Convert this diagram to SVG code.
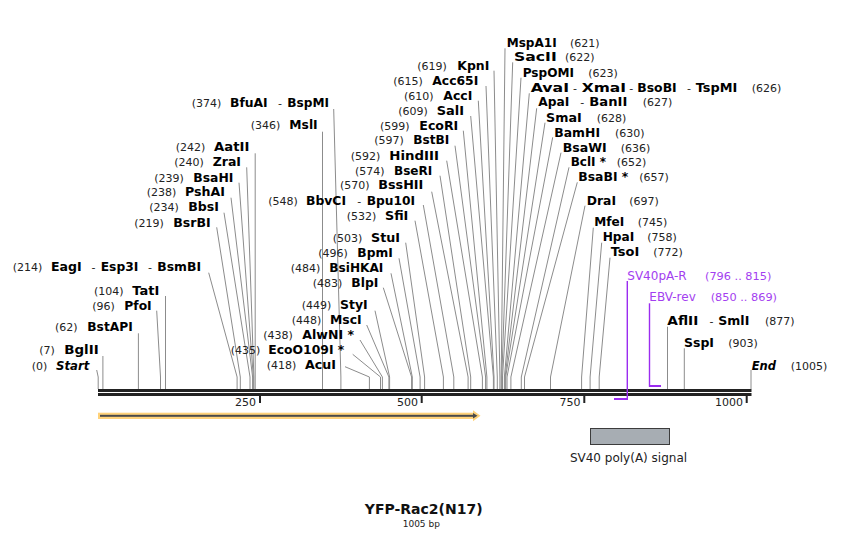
<svg xmlns="http://www.w3.org/2000/svg" width="850" height="539" viewBox="0 0 850 539">
<style>
text{font-family:"DejaVu Sans","Liberation Sans",sans-serif}
.n{font-size:11px;fill:#222}
.b{font-size:12.5px;font-weight:bold;fill:#000}
.i{font-style:italic}
.d{font-size:11px;fill:#222}
.p{font-size:12px;fill:#a33ef0}
.pn{font-size:11.3px;fill:#a33ef0}
.ln{stroke:#8c8c8c;stroke-width:1;fill:none}
.pl{stroke:#9b2cf0;stroke-width:1.4;fill:none}
</style>
<rect width="850" height="539" fill="#fff"/>

<g id="connectors">
<polyline class="ln" points="96.7,370 98.2,377 98.2,389"/>
<polyline class="ln" points="102.9,356 102.9,389"/>
<polyline class="ln" points="138.4,333.3 138.4,389"/>
<polyline class="ln" points="156.7,310.7 160.5,377 160.5,389"/>
<polyline class="ln" points="165.5,296 165.5,389"/>
<polyline class="ln" points="208.7,272.7 237.1,377 237.1,389"/>
<polyline class="ln" points="216.7,227.3 240.3,377 240.3,389"/>
<polyline class="ln" points="224,212.7 250,377 250,389"/>
<polyline class="ln" points="231,197.7 252.6,377 252.6,389"/>
<polyline class="ln" points="239,182.7 253.3,377 253.3,389"/>
<polyline class="ln" points="246.7,167.3 253.9,377 253.9,389"/>
<polyline class="ln" points="255.2,153.3 255.2,389"/>
<polyline class="ln" points="322.5,131.7 322.5,389"/>
<polyline class="ln" points="333.7,109 340.9,377 340.9,389"/>
<polyline class="ln" points="423.3,205 453.8,377 453.8,389"/>
<polyline class="ln" points="415,220.7 443.4,377 443.4,389"/>
<polyline class="ln" points="405.7,242.7 424.6,377 424.6,389"/>
<polyline class="ln" points="399,258.3 420.1,377 420.1,389"/>
<polyline class="ln" points="391,273.3 412.3,377 412.3,389"/>
<polyline class="ln" points="383.3,287.7 411.6,377 411.6,389"/>
<polyline class="ln" points="375,310.7 389.6,377 389.6,389"/>
<polyline class="ln" points="366.7,325 388.9,377 388.9,389"/>
<polyline class="ln" points="360,340 382.4,377 382.4,389"/>
<polyline class="ln" points="352.7,354.3 380.5,377 380.5,389"/>
<polyline class="ln" points="345,366.7 369.4,377 369.4,389"/>
<polyline class="ln" points="431.7,191.7 468.1,377 468.1,389"/>
<polyline class="ln" points="440,175.7 470.7,377 470.7,389"/>
<polyline class="ln" points="446.7,160.7 482.4,377 482.4,389"/>
<polyline class="ln" points="455,145.7 485.6,377 485.6,389"/>
<polyline class="ln" points="463.3,130.7 486.9,377 486.9,389"/>
<polyline class="ln" points="470.7,116 493.4,377 493.4,389"/>
<polyline class="ln" points="478.3,100.7 494,377 494,389"/>
<polyline class="ln" points="486,86 497.3,377 497.3,389"/>
<polyline class="ln" points="494,70.7 499.9,377 499.9,389"/>
<polyline class="ln" points="505,48.3 501.2,377 501.2,389"/>
<polyline class="ln" points="512.7,62.3 501.8,377 501.8,389"/>
<polyline class="ln" points="521,77.7 502.5,377 502.5,389"/>
<polyline class="ln" points="529.3,93.3 504.4,377 504.4,389"/>
<polyline class="ln" points="536.7,108.3 505.1,377 505.1,389"/>
<polyline class="ln" points="545,122.7 505.7,377 505.7,389"/>
<polyline class="ln" points="552.7,137.3 507,377 507,389"/>
<polyline class="ln" points="561,152.7 510.9,377 510.9,389"/>
<polyline class="ln" points="569,167.3 521.3,377 521.3,389"/>
<polyline class="ln" points="577.3,182.3 524.5,377 524.5,389"/>
<polyline class="ln" points="585,205.7 550.5,377 550.5,389"/>
<polyline class="ln" points="593.3,227.7 581.6,377 581.6,389"/>
<polyline class="ln" points="601.7,242.7 590.1,377 590.1,389"/>
<polyline class="ln" points="610,257.7 599.2,377 599.2,389"/>
<polyline class="ln" points="667.5,326.7 667.5,389"/>
<polyline class="ln" points="684.3,348.3 684.3,389"/>
<polyline class="ln" points="751,370 751,389"/>
</g>

<g id="backbone">
<rect x="98" y="389" width="653.5" height="3" fill="#222"/>
<rect x="98" y="393" width="653.5" height="3" fill="#222"/>
<rect x="259" y="396" width="2" height="7" fill="#222"/>
<rect x="420.7" y="396" width="2" height="7" fill="#222"/>
<rect x="583.3" y="396" width="2" height="7" fill="#222"/>
<rect x="745.7" y="396" width="2" height="7" fill="#222"/>
<text class="n" x="256" y="405.5" text-anchor="end">250</text>
<text class="n" x="418" y="405.5" text-anchor="end">500</text>
<text class="n" x="580.5" y="405.5" text-anchor="end">750</text>
<text class="n" x="743" y="405.5" text-anchor="end">1000</text>
</g>

<g id="primer-sv40pa-r">
<line class="pl" x1="627.3" y1="281" x2="627.3" y2="400"/>
<rect x="614" y="398" width="13.5" height="2" fill="#9b2cf0"/>
<text class="p" x="627.3" y="279.5">SV40pA-R</text>
<text class="pn" x="705" y="279.5">(796 .. 815)</text>
</g>
<g id="primer-ebv-rev">
<line class="pl" x1="649.5" y1="303.3" x2="649.5" y2="386.8"/>
<rect x="649" y="385" width="12" height="2" fill="#9b2cf0"/>
<text class="p" x="649.3" y="301.2">EBV-rev</text>
<text class="pn" x="710.7" y="301.2">(850 .. 869)</text>
</g>

<g id="feature-orf">
<rect x="98" y="412.7" width="376" height="6.3" fill="#ffd27a"/>
<polygon points="473,410.3 480.5,415.8 473,421.3" fill="#ffd27a"/>
<rect x="100" y="414.8" width="374" height="2" fill="#4a4a4a"/>
<polygon points="473,413 477.5,415.8 473,418.6" fill="#4a4a4a"/>
</g>

<g id="feature-sv40-polya">
<rect x="590.5" y="428.5" width="79" height="16" fill="#a7adb3" stroke="#3c3c3c" stroke-width="1"/>
<text x="628.5" y="462" text-anchor="middle" font-size="12" fill="#222">SV40 poly(A) signal</text>
</g>

<g id="title">
<text x="423.7" y="513.5" text-anchor="middle" font-size="14" font-weight="bold" fill="#111">YFP-Rac2(N17)</text>
<text x="421.3" y="526.5" text-anchor="middle" font-size="9" fill="#222">1005 bp</text>
</g>

<g id="site-start"><text class="n" x="31.7" y="369.5">(0)</text><text class="b i" x="56" y="369.5" textLength="33.3" lengthAdjust="spacingAndGlyphs">Start</text></g>
<g id="site-bglii"><text class="n" x="39.3" y="353.8">(7)</text><text class="b" x="64.3" y="353.8" textLength="34.4" lengthAdjust="spacingAndGlyphs">BglII</text></g>
<g id="site-bstapi"><text class="n" x="55" y="331.2">(62)</text><text class="b" x="87.3" y="331.2" textLength="45.4" lengthAdjust="spacingAndGlyphs">BstAPI</text></g>
<g id="site-pfoi"><text class="n" x="92.3" y="309.5">(96)</text><text class="b" x="124.3" y="309.5" textLength="27.4" lengthAdjust="spacingAndGlyphs">PfoI</text></g>
<g id="site-tati"><text class="n" x="94" y="294.5">(104)</text><text class="b" x="132.3" y="294.5" textLength="27" lengthAdjust="spacingAndGlyphs">TatI</text></g>
<g id="site-eagi"><text class="n" x="12.7" y="271.2">(214)</text><text class="b" x="51" y="271.2" textLength="30.7" lengthAdjust="spacingAndGlyphs">EagI</text><text class="d" x="91.5" y="271.2">-</text><text class="b" x="100.7" y="271.2" textLength="37.6" lengthAdjust="spacingAndGlyphs">Esp3I</text><text class="d" x="148" y="271.2">-</text><text class="b" x="157.3" y="271.2" textLength="43.7" lengthAdjust="spacingAndGlyphs">BsmBI</text></g>
<g id="site-bsrbi"><text class="n" x="134.3" y="226.5">(219)</text><text class="b" x="173.3" y="226.5" textLength="37.4" lengthAdjust="spacingAndGlyphs">BsrBI</text></g>
<g id="site-bbsi"><text class="n" x="149.3" y="211.2">(234)</text><text class="b" x="188.3" y="211.2" textLength="30.7" lengthAdjust="spacingAndGlyphs">BbsI</text></g>
<g id="site-pshai"><text class="n" x="146.7" y="196.2">(238)</text><text class="b" x="185" y="196.2" textLength="40" lengthAdjust="spacingAndGlyphs">PshAI</text></g>
<g id="site-bsahi"><text class="n" x="154.3" y="181.8">(239)</text><text class="b" x="193.3" y="181.8" textLength="40" lengthAdjust="spacingAndGlyphs">BsaHI</text></g>
<g id="site-zrai"><text class="n" x="174.3" y="166.2">(240)</text><text class="b" x="212.7" y="166.2" textLength="28.3" lengthAdjust="spacingAndGlyphs">ZraI</text></g>
<g id="site-aatii"><text class="n" x="175.7" y="151.2">(242)</text><text class="b" x="214" y="151.2" textLength="35.3" lengthAdjust="spacingAndGlyphs">AatII</text></g>
<g id="site-msli"><text class="n" x="250.7" y="129.2">(346)</text><text class="b" x="289.3" y="129.2" textLength="28.4" lengthAdjust="spacingAndGlyphs">MslI</text></g>
<g id="site-bfuai"><text class="n" x="191.7" y="106.8">(374)</text><text class="b" x="230" y="106.8" textLength="37.7" lengthAdjust="spacingAndGlyphs">BfuAI</text><text class="d" x="278" y="106.8">-</text><text class="b" x="287.3" y="106.8" textLength="41.7" lengthAdjust="spacingAndGlyphs">BspMI</text></g>

<g id="site-bbvci"><text class="n" x="268.3" y="204.5">(548)</text><text class="b" x="306" y="204.5" textLength="40" lengthAdjust="spacingAndGlyphs">BbvCI</text><text class="d" x="357.3" y="204.5">-</text><text class="b" x="366.7" y="204.5" textLength="48.3" lengthAdjust="spacingAndGlyphs">Bpu10I</text></g>
<g id="site-sfii"><text class="n" x="346.7" y="219.5">(532)</text><text class="b" x="385" y="219.5" textLength="23.3" lengthAdjust="spacingAndGlyphs">SfiI</text></g>
<g id="site-stui"><text class="n" x="332.7" y="241.8">(503)</text><text class="b" x="371" y="241.8" textLength="29" lengthAdjust="spacingAndGlyphs">StuI</text></g>
<g id="site-bpmi"><text class="n" x="318.3" y="256.5">(496)</text><text class="b" x="357.3" y="256.5" textLength="35.4" lengthAdjust="spacingAndGlyphs">BpmI</text></g>
<g id="site-bsihkai"><text class="n" x="290.7" y="271.5">(484)</text><text class="b" x="329.3" y="271.5" textLength="54" lengthAdjust="spacingAndGlyphs">BsiHKAI</text></g>
<g id="site-blpi"><text class="n" x="312.7" y="286.5">(483)</text><text class="b" x="351.3" y="286.5" textLength="27" lengthAdjust="spacingAndGlyphs">BlpI</text></g>
<g id="site-styi"><text class="n" x="301.7" y="309.2">(449)</text><text class="b" x="340" y="309.2" textLength="27.7" lengthAdjust="spacingAndGlyphs">StyI</text></g>
<g id="site-msci"><text class="n" x="291.7" y="323.8">(448)</text><text class="b" x="330" y="323.8" textLength="31.7" lengthAdjust="spacingAndGlyphs">MscI</text></g>
<g id="site-alwni"><text class="n" x="263.3" y="338.8">(438)</text><text class="b" x="302.3" y="338.8" textLength="51.7" lengthAdjust="spacingAndGlyphs">AlwNI *</text></g>
<g id="site-ecoo109i"><text class="n" x="230.7" y="353.8">(435)</text><text class="b" x="268.3" y="353.8" textLength="76" lengthAdjust="spacingAndGlyphs">EcoO109I *</text></g>
<g id="site-acui"><text class="n" x="266.7" y="368.5">(418)</text><text class="b" x="305" y="368.5" textLength="31" lengthAdjust="spacingAndGlyphs">AcuI</text></g>
<g id="site-bsshii"><text class="n" x="340" y="188.5">(570)</text><text class="b" x="378.3" y="188.5" textLength="45" lengthAdjust="spacingAndGlyphs">BssHII</text></g>
<g id="site-bseri"><text class="n" x="355" y="174.5">(574)</text><text class="b" x="394" y="174.5" textLength="38.3" lengthAdjust="spacingAndGlyphs">BseRI</text></g>
<g id="site-hindiii"><text class="n" x="350.7" y="159.5">(592)</text><text class="b" x="389.3" y="159.5" textLength="49.7" lengthAdjust="spacingAndGlyphs">HindIII</text></g>
<g id="site-bstbi"><text class="n" x="374.3" y="143.8">(597)</text><text class="b" x="413.3" y="143.8" textLength="36" lengthAdjust="spacingAndGlyphs">BstBI</text></g>
<g id="site-ecori"><text class="n" x="380" y="129.5">(599)</text><text class="b" x="419.3" y="129.5" textLength="39" lengthAdjust="spacingAndGlyphs">EcoRI</text></g>
<g id="site-sali"><text class="n" x="398.3" y="114.5">(609)</text><text class="b" x="436.7" y="114.5" textLength="27.3" lengthAdjust="spacingAndGlyphs">SalI</text></g>
<g id="site-acci"><text class="n" x="404" y="99.5">(610)</text><text class="b" x="443.3" y="99.5" textLength="29" lengthAdjust="spacingAndGlyphs">AccI</text></g>
<g id="site-acc65i"><text class="n" x="393.3" y="84.5">(615)</text><text class="b" x="432.3" y="84.5" textLength="46" lengthAdjust="spacingAndGlyphs">Acc65I</text></g>
<g id="site-kpni"><text class="n" x="417.3" y="69.5">(619)</text><text class="b" x="457.3" y="69.5" textLength="32" lengthAdjust="spacingAndGlyphs">KpnI</text></g>

<g id="site-mspa1i"><text class="b" x="506.7" y="47.2" textLength="50" lengthAdjust="spacingAndGlyphs">MspA1I</text><text class="n" x="570" y="47.2">(621)</text></g>
<g id="site-sacii"><text class="b" x="514" y="61.2" textLength="42.7" lengthAdjust="spacingAndGlyphs">SacII</text><text class="n" x="565" y="61.2">(622)</text></g>
<g id="site-pspomi"><text class="b" x="522.7" y="76.8" textLength="51.3" lengthAdjust="spacingAndGlyphs">PspOMI</text><text class="n" x="588.3" y="76.8">(623)</text></g>
<g id="site-avai"><text class="b" x="530.7" y="91.8" textLength="38.3" lengthAdjust="spacingAndGlyphs">AvaI</text><text class="d" x="573" y="91.8">-</text><text class="b" x="581.7" y="91.8" textLength="44.3" lengthAdjust="spacingAndGlyphs">XmaI</text><text class="d" x="629.3" y="91.8">-</text><text class="b" x="637.3" y="91.8" textLength="39.4" lengthAdjust="spacingAndGlyphs">BsoBI</text><text class="d" x="687" y="91.8">-</text><text class="b" x="695.7" y="91.8" textLength="41.6" lengthAdjust="spacingAndGlyphs">TspMI</text><text class="n" x="751.7" y="91.8">(626)</text></g>
<g id="site-apai"><text class="b" x="538.3" y="106.2" textLength="31" lengthAdjust="spacingAndGlyphs">ApaI</text><text class="d" x="580.3" y="106.2">-</text><text class="b" x="589.3" y="106.2" textLength="38" lengthAdjust="spacingAndGlyphs">BanII</text><text class="n" x="642.7" y="106.2">(627)</text></g>
<g id="site-smai"><text class="b" x="546" y="121.8" textLength="35.7" lengthAdjust="spacingAndGlyphs">SmaI</text><text class="n" x="596.7" y="121.8">(628)</text></g>
<g id="site-bamhi"><text class="b" x="554.3" y="136.8" textLength="45.7" lengthAdjust="spacingAndGlyphs">BamHI</text><text class="n" x="615" y="136.8">(630)</text></g>
<g id="site-bsawi"><text class="b" x="562.7" y="151.8" textLength="44" lengthAdjust="spacingAndGlyphs">BsaWI</text><text class="n" x="620.7" y="151.8">(636)</text></g>
<g id="site-bcli"><text class="b" x="570.7" y="166.2" textLength="35.3" lengthAdjust="spacingAndGlyphs">BclI *</text><text class="n" x="616.7" y="166.2">(652)</text></g>
<g id="site-bsabi"><text class="b" x="578.3" y="181.2" textLength="50" lengthAdjust="spacingAndGlyphs">BsaBI *</text><text class="n" x="639.3" y="181.2">(657)</text></g>
<g id="site-drai"><text class="b" x="586.7" y="204.5" textLength="29.3" lengthAdjust="spacingAndGlyphs">DraI</text><text class="n" x="629.3" y="204.5">(697)</text></g>
<g id="site-mfei"><text class="b" x="594.3" y="226.2" textLength="30" lengthAdjust="spacingAndGlyphs">MfeI</text><text class="n" x="637.7" y="226.2">(745)</text></g>
<g id="site-hpai"><text class="b" x="602.7" y="241.2" textLength="31.6" lengthAdjust="spacingAndGlyphs">HpaI</text><text class="n" x="647.3" y="241.2">(758)</text></g>
<g id="site-tsoi"><text class="b" x="610.7" y="256.2" textLength="28.6" lengthAdjust="spacingAndGlyphs">TsoI</text><text class="n" x="653.3" y="256.2">(772)</text></g>
<g id="site-aflii"><text class="b" x="667.3" y="324.5" textLength="31" lengthAdjust="spacingAndGlyphs">AflII</text><text class="d" x="709.5" y="324.5">-</text><text class="b" x="718.3" y="324.5" textLength="31" lengthAdjust="spacingAndGlyphs">SmlI</text><text class="n" x="765" y="324.5">(877)</text></g>
<g id="site-sspi"><text class="b" x="684" y="346.8" textLength="30" lengthAdjust="spacingAndGlyphs">SspI</text><text class="n" x="728.3" y="346.8">(903)</text></g>
<g id="site-end"><text class="b i" x="751.7" y="369.5" textLength="24.3" lengthAdjust="spacingAndGlyphs">End</text><text class="n" x="790.7" y="369.5">(1005)</text></g>
</svg>
